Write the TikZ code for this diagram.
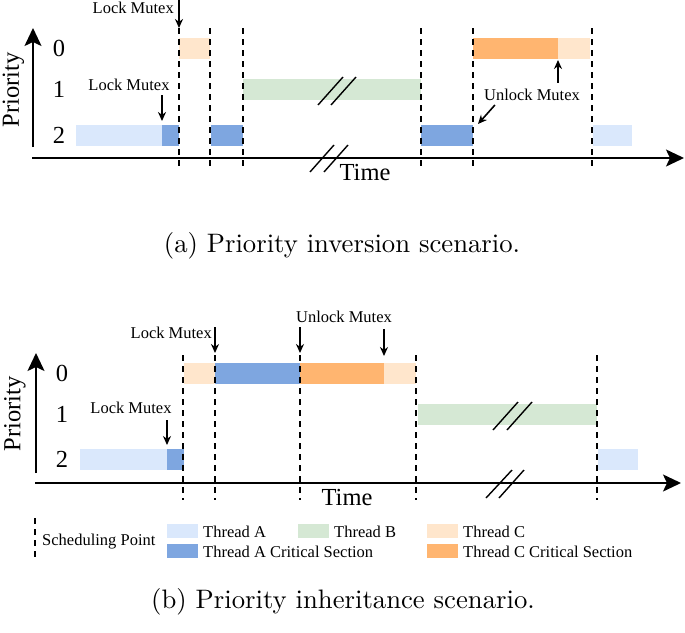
\documentclass[tikz,border=0pt]{standalone}
\usepackage{fontspec}
\newfontfamily\tnr{Liberation Serif}
\usepackage{tikz}
\usetikzlibrary{arrows.meta}

\definecolor{thA}{HTML}{DAE8FC}
\definecolor{thAcs}{HTML}{7EA6E0}
\definecolor{thB}{HTML}{D5E8D4}
\definecolor{thC}{HTML}{FFE6CC}
\definecolor{thCcs}{HTML}{FFB570}

\begin{document}
\begin{tikzpicture}[x=1pt,y=-1pt,
    axis/.style={line width=1.8pt,-{Stealth[length=18pt,width=17pt,inset=4pt]}},
    sched/.style={line width=1.6pt,dash pattern=on 6pt off 5pt},
    mutex/.style={line width=1.6pt,-{Stealth[length=9pt,width=8pt]}},
    brk/.style={line width=1.4pt},
    lbl/.style={font=\tnr\fontsize{16.5}{18}\selectfont,inner sep=0pt},
    big/.style={font=\tnr\fontsize{24.5}{28}\selectfont,inner sep=0pt},
    captxt/.style={font=\fontsize{10}{12}\selectfont,inner sep=0pt,scale=2.67}]
  \useasboundingbox (0,0) rectangle (685,632);

  % (a) priority inversion
  \foreach \xa/\xb/\ya/\c in {76/162/125/thA,162/179/125/thAcs,179/210/38/thC,
      211/243/125/thAcs,243/421/79/thB,421/473/125/thAcs,473/558/38/thCcs,
      558/590/38/thC,593/632/125/thA}{
    \fill[\c] (\xa,\ya) rectangle (\xb,{\ya+21});
  }
  \foreach \x in {179,210,243,421,473,592}{ \draw[sched] (\x,28)--(\x,168); }
  \draw[axis] (32,158)--(684,158);
  \draw[axis] (33,147)--(33,28);
  \draw[brk] (318,105)--(343,77) (331,105)--(356,77);
  \draw[brk] (310,172)--(334,145) (324,172)--(348,145);
  \node[big,rotate=90] (prA) at (13.5,90) {Priority};
  \foreach \r/\y in {0/48.5,1/89.5,2/135.5}{ \node[big] (pa\r) at (59,\y) {\r}; }
  \node[big] (timeA) at (365,173) {Time};
  % mutex events
  \coordinate (sa1) at (179,28);
  \coordinate (ca1) at (162,121);
  \coordinate (ca3) at (478,124);
  \coordinate (cc1) at (558,60);
  \node[lbl,anchor=east] (lockA1) at (174,8) {Lock Mutex};
  \node[lbl] (lockA2) at (129,85) {Lock Mutex};
  \node[lbl] (unlockA) at (532,95) {Unlock Mutex};
  \draw[mutex] (sa1 |- lockA1.north) ++(0,-2)--(sa1);
  \draw[mutex] (lockA2.south -| ca1) ++(0,4)--(ca1);
  \draw[mutex] (unlockA.north -| cc1) ++(0,-6)--(cc1);
  \draw[mutex] (unlockA.south west) ++(11,4)--(ca3);
  \node[captxt] (capA) at (342,246) {(a) Priority inversion scenario.};

  % (b) priority inheritance
  \foreach \xa/\xb/\ya/\c in {80/167/449/thA,167/184/449/thAcs,184/215/363/thC,
      215/300/363/thAcs,300/384/363/thCcs,384/416/363/thC,418/597/404/thB,
      598/638/449/thA}{
    \fill[\c] (\xa,\ya) rectangle (\xb,{\ya+21});
  }
  \foreach \x in {183,215,300,416,597}{ \draw[sched] (\x,355)--(\x,500); }
  \draw[axis] (35,483)--(681,483);
  \draw[axis] (36,473)--(36,353);
  \draw[brk] (493,430)--(518,402) (507,430)--(532,402);
  \draw[brk] (486,498)--(512,470) (499,498)--(524,470);
  \node[big,rotate=90] (prB) at (15,414) {Priority};
  \foreach \r/\y in {0/373,1/414.5,2/459.5}{ \node[big] (pb\r) at (62,\y) {\r}; }
  \node[big] (timeB) at (347,498) {Time};
  % mutex events
  \coordinate (sb2) at (215,353);
  \coordinate (sb3) at (300,353);
  \coordinate (cb1) at (167,445);
  \coordinate (cc2) at (384,356);
  \node[lbl,anchor=east] (lockB1) at (212,333) {Lock Mutex};
  \node[lbl] (unlockB) at (344,317) {Unlock Mutex};
  \node[lbl] (lockB2) at (131,408) {Lock Mutex};
  \draw[mutex] (lockB1.north -| sb2)--(sb2);
  \draw[mutex] (unlockB.south -| sb3) ++(0,4)--(sb3);
  \draw[mutex] (unlockB.south -| cc2) ++(0,6)--(cc2);
  \draw[mutex] (lockB2.south -| cb1) ++(0,6)--(cb1);

  % legend
  \draw[sched] (35,518)--(35,558);
  \node[lbl,anchor=west] (lgS) at (42,542) {Scheduling Point};
  \foreach \xa/\ya/\c/\t in {167/524/thA/Thread A,298/524/thB/Thread B,
      427/524/thC/Thread C,167/544/thAcs/Thread A Critical Section,
      427/544/thCcs/Thread C Critical Section}{
    \fill[\c] (\xa,\ya) rectangle ({\xa+31},{\ya+14});
    \node[lbl,anchor=west] at ({\xa+36},{\ya+7.5}) {\t};
  }
  \node[captxt] (capB) at (343,602) {(b) Priority inheritance scenario.};
\end{tikzpicture}
\end{document}
